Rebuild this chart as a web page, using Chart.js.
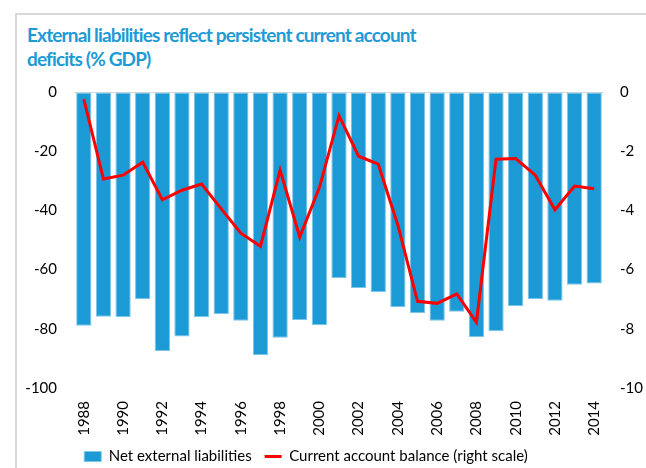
<!DOCTYPE html>
<html>
<head>
<meta charset="utf-8">
<script src="https://cdn.jsdelivr.net/npm/chart.js@4"></script>
<style>
  html, body { margin: 0; padding: 0; overflow: hidden; background: #fff; width: 646px; height: 468px; }
  .frame { position: absolute; left: 15px; top: 13px; width: 700px; height: 520px;
           border-left: 2px solid #d9d9d9; border-top: 2px solid #d9d9d9; }
  .title { position: absolute; left: 27px; top: 23px; font-family: Lato, sans-serif; font-weight: bold;
           font-size: 19px; line-height: 24px; letter-spacing: -0.85px; color: #1e9ad6; }
  canvas { position: absolute; left: -34px; top: 0; }
</style>
</head>
<body>
<div class="frame"></div>
<div class="title">External liabilities reflect persistent current account<br>deficits (% GDP)</div>
<canvas id="chart" width="680" height="474"></canvas>
<script>
// Years on the category axis
const years = ['1988', '1989', '1990', '1991', '1992', '1993', '1994', '1995', '1996', '1997',
               '1998', '1999', '2000', '2001', '2002', '2003', '2004', '2005', '2006', '2007',
               '2008', '2009', '2010', '2011', '2012', '2013', '2014'];

// Net external liabilities, % GDP (left scale)
const netLiabilities = [-79.0, -75.9, -76.1, -70.0, -87.5, -82.6, -76.1, -75.0, -77.3, -88.9,
                        -83.0, -77.0, -78.8, -62.9, -66.2, -67.6, -72.7, -74.7, -77.3, -74.2,
                        -82.8, -80.8, -72.3, -70.0, -70.5, -65.1, -64.7];

// Current account balance, % GDP (right scale)
const currentAccount = [-0.24, -2.94, -2.81, -2.37, -3.64, -3.32, -3.11, -3.95, -4.77, -5.21,
                        -2.64, -4.90, -3.23, -0.80, -2.17, -2.44, -4.50, -7.07, -7.14, -6.82,
                        -7.78, -2.27, -2.25, -2.81, -3.98, -3.18, -3.27];

const leftTicks = { min: -100, max: 0, step: 20 };
const rightTicks = { min: -10, max: 0, step: 2 };

const tickFont = { family: 'Lato, sans-serif', size: 15 };

const ctx = document.getElementById('chart').getContext('2d');
new Chart(ctx, {
    type: 'bar',
    data: {
        labels: years,
        datasets: [{
            type: 'bar',
            label: 'Net external liabilities',
            data: netLiabilities,
            backgroundColor: '#1b9ad6',
            borderColor: '#7fc5ea',
            borderWidth: 1,
            borderSkipped: false,
            barPercentage: 0.78,
            categoryPercentage: 1.0,
            pointStyle: 'rect',
            yAxisID: 'y',
            order: 1
        }, {
            type: 'line',
            label: 'Current account balance (right scale)',
            data: currentAccount,
            borderColor: '#ff0000',
            backgroundColor: '#ff0000',
            borderWidth: 3,
            pointRadius: 0,
            pointStyle: 'line',
            tension: 0,
            yAxisID: 'y1',
            order: 0
        }]
    },
    options: {
        responsive: false,
        animation: false,
        layout: { padding: { top: 92, left: 0, right: 0, bottom: 0 } },
        plugins: {
            tooltip: { enabled: false },
            legend: {
                position: 'bottom',
                labels: {
                    usePointStyle: true,
                    pointStyleWidth: 17,
                    boxHeight: 10,
                    padding: 13,
                    color: '#000',
                    font: tickFont,
                    sort: (a, b) => a.datasetIndex - b.datasetIndex
                }
            }
        },
        scales: {
            x: {
                grid: { display: false, drawTicks: false },
                border: { display: false },
                ticks: {
                    autoSkip: false,
                    minRotation: 90,
                    maxRotation: 90,
                    padding: 13,
                    color: '#000',
                    font: tickFont,
                    callback: (value, index) => index % 2 === 0 ? years[index] : ''
                },
                afterFit: (scale) => { scale.height = 48; }
            },
            y: {
                position: 'left',
                min: leftTicks.min,
                max: leftTicks.max,
                grid: {
                    drawTicks: false,
                    color: (c) => c.tick && c.tick.value === 0 ? '#d9d9d9' : 'rgba(0,0,0,0)',
                    lineWidth: 1
                },
                border: { display: false },
                ticks: { stepSize: leftTicks.step, padding: 17, color: '#000', font: tickFont },
                afterFit: (scale) => { scale.width = 108; }
            },
            y1: {
                position: 'right',
                min: rightTicks.min,
                max: rightTicks.max,
                grid: { display: false, drawTicks: false },
                border: { display: false },
                ticks: { stepSize: rightTicks.step, padding: 16, color: '#000', font: tickFont },
                afterFit: (scale) => { scale.width = 42; }
            }
        }
    }
});
</script>
</body>
</html>
